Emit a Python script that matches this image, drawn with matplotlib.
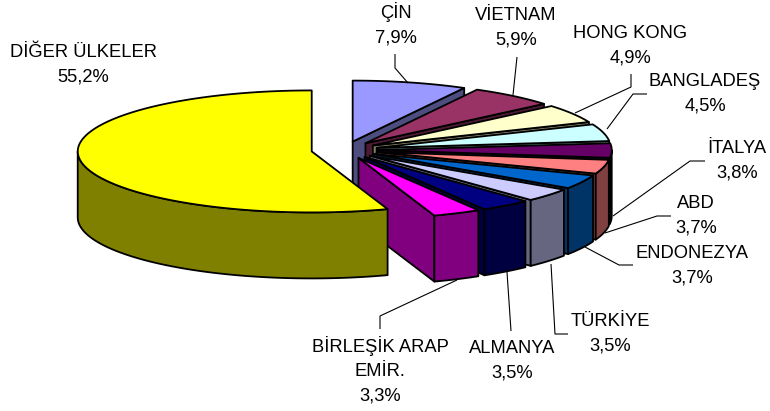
import numpy as np
import matplotlib
matplotlib.use('Agg')
import matplotlib.pyplot as plt
from matplotlib.patches import Polygon

plt.rcParams['font.family'] = ['Liberation Sans', 'DejaVu Sans']

# data, clockwise from 12 o'clock
names = ['ÇİN', 'VİETNAM', 'HONG KONG', 'BANGLADEŞ', 'İTALYA', 'ABD', 'ENDONEZYA',
         'TÜRKİYE', 'ALMANYA', 'BİRLEŞİK ARAP\nEMİR.', 'DİĞER ÜLKELER']
values = [7.9, 5.9, 4.9, 4.5, 3.8, 3.7, 3.7, 3.5, 3.5, 3.3, 55.2]
colors = ['#9999FF', '#993366', '#FFFFCC', '#CCFFFF', '#660066', '#FF8080',
          '#0066CC', '#CCCCFF', '#000080', '#FF00FF', '#FFFF00']
label_x = [396, 516, 630, 705, 737, 696, 692, 610, 512, 380, 83]
label_y = [24, 28, 46, 94, 161, 216, 266, 334, 361, 370, 65]

# leader lines, pixel positions
leaders = [
    [(395, 54), (395, 68), (408, 83)],
    [(517, 57), (513, 95)],
    [(631, 74), (631, 87), (575, 113)],
    [(647, 94), (633, 94), (607, 129)],
    [(705, 161), (690, 161), (613, 216)],
    [(671, 216), (657, 216), (605, 233)],
    [(633, 265), (619, 265), (585, 247)],
    [(568, 334), (555, 334), (551, 264)],
    [(511, 331), (507, 272)],
    [(380, 329), (380, 316), (457, 280)],
]

# pie geometry in pixels
cx, cy = 344.5, 150
rx, ry = 234, 61
depth = 66
explode = 0.142

fig = plt.figure(figsize=(7.7, 4.11), dpi=100)
ax = fig.add_axes([0, 0, 1, 1])
ax.set_xlim(0, 770)
ax.set_ylim(411, 0)
ax.axis('off')


def rim(t, ox, oy):
    return np.column_stack([ox + rx * np.sin(t), oy - ry * np.cos(t)])


def darker(col):
    return tuple(c * 0.5 for c in matplotlib.colors.to_rgb(col))


ends = np.cumsum(values) / np.sum(values) * 2 * np.pi
starts = np.concatenate([[0], ends[:-1]])

for t0, t1, col in zip(starts, ends, colors):
    mid = (t0 + t1) / 2
    ox = cx + explode * rx * np.sin(mid)
    oy = cy - explode * ry * np.cos(mid)
    arc = np.linspace(t0, t1, 80)
    top = rim(arc, ox, oy)
    side = darker(col)

    # cut face on the clockwise end, only when it looks towards the viewer
    if np.sin(t1) > 0.001:
        end = rim(np.array([t1]), ox, oy)[0]
        face = [(ox, oy), end, (end[0], end[1] + depth), (ox, oy + depth)]
        ax.add_patch(Polygon(face, fc=side, ec='black', lw=1.3, joinstyle='round'))

    # outer wall on the front half
    lo, hi = max(t0, np.pi / 2), min(t1, 3 * np.pi / 2)
    if hi > lo:
        w = rim(np.linspace(lo, hi, 60), ox, oy)
        low = w[::-1] + [0, depth]
        ax.add_patch(Polygon(np.vstack([w, low]), fc=side, ec='black', lw=1.3, joinstyle='round'))

    ax.add_patch(Polygon(np.vstack([[ox, oy], top]), fc=col, ec='black', lw=1.3, joinstyle='round'))

for pts in leaders:
    xs, ys = zip(*pts)
    ax.plot(xs, ys, color='black', lw=0.8, solid_capstyle='butt')

for name, val, x, y in zip(names, values, label_x, label_y):
    txt = name + '\n' + f'{val:.1f}'.replace('.', ',') + '%'
    ax.text(x, y, txt, ha='center', va='center', fontsize=13.2, color='black', linespacing=1.55)

fig.savefig('out.png', dpi=100)
